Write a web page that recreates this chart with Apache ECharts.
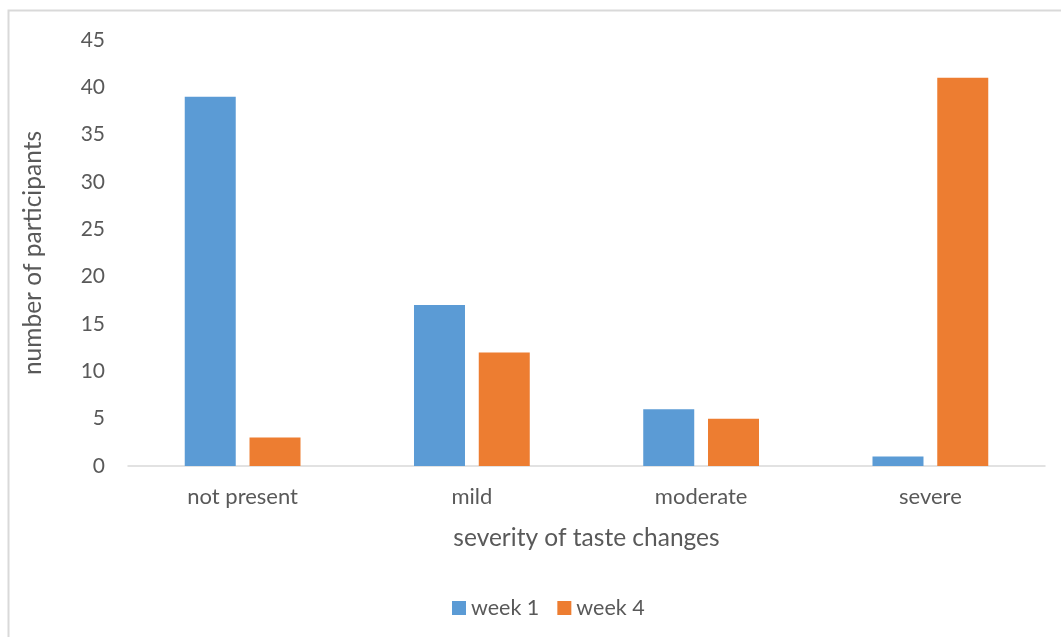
<!DOCTYPE html>
<html><head><meta charset="utf-8">
<script src="https://cdn.jsdelivr.net/npm/echarts@6/dist/echarts.min.js"></script>
<style>html,body{margin:0;padding:0;background:#fff}#c{width:1061px;height:637px}</style>
</head><body><div id="c"></div>
<script>
const categories = ['not present', 'mild', 'moderate', 'severe'];
const week1 = [39, 17, 6, 1];
const week4 = [3, 12, 5, 41];
const seriesNames = ['week 1', 'week 4'];
const FONT = 'Lato, "Open Sans", sans-serif';
const chart = echarts.init(document.getElementById('c'), null, {renderer: 'canvas'});
chart.setOption({
  animation: false,
  backgroundColor: '#fff',
  color: ['#5b9bd5', '#ed7d31'],
  textStyle: {fontFamily: FONT, color: '#595959'},
  graphic: [{type: 'rect', shape: {x: 8.5, y: 10.5, width: 1080, height: 660}, style: {fill: 'none', stroke: '#d9d9d9', lineWidth: 2}, silent: true}],
  grid: {left: 128, right: 16, top: 40, bottom: 171},
  legend: {top: 592, left: 447, itemWidth: 14, itemHeight: 14, itemGap: 18, icon: 'rect',
    textStyle: {fontSize: 21.5, color: '#595959', fontFamily: FONT}, data: seriesNames},
  xAxis: {type: 'category', data: categories,
    axisLine: {lineStyle: {color: '#d9d9d9', width: 1.5}}, axisTick: {show: false},
    axisLabel: {fontSize: 22, color: '#595959', margin: 20, fontFamily: FONT},
    name: 'severity of taste changes', nameLocation: 'middle', nameGap: 60,
    nameTextStyle: {fontSize: 24.5, color: '#595959', fontFamily: FONT}},
  yAxis: {type: 'value', min: 0, max: 45, interval: 5,
    axisLine: {show: false}, axisTick: {show: false}, splitLine: {show: false},
    axisLabel: {fontSize: 21, color: '#595959', margin: 23, fontFamily: FONT},
    name: 'number of participants', nameLocation: 'middle', nameGap: 82,
    nameTextStyle: {fontSize: 24.5, color: '#595959', fontFamily: FONT}},
  series: [
    {name: seriesNames[0], type: 'bar', data: week1, barWidth: 51, barGap: '27%'},
    {name: seriesNames[1], type: 'bar', data: week4, barWidth: 51, barGap: '27%'}
  ]
});
</script></body></html>
